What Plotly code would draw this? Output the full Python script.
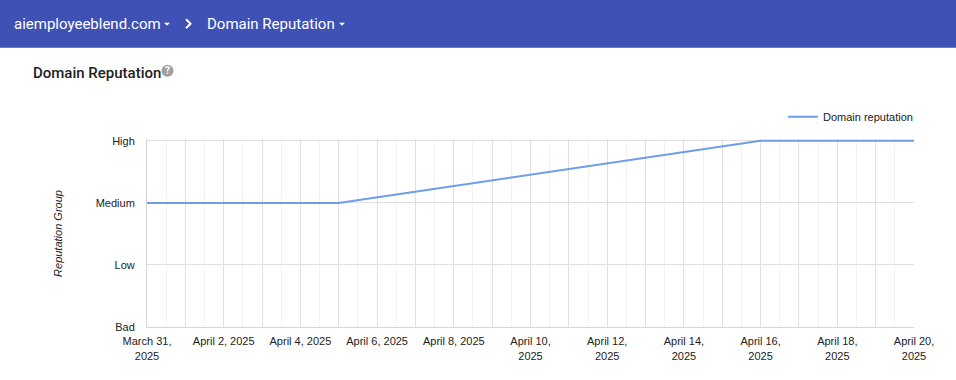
import plotly.graph_objects as go

# ---- data ----
rep_levels = ["Bad", "Low", "Medium", "High"]
dates = ["2025-03-31", "2025-04-01", "2025-04-02", "2025-04-03", "2025-04-04", "2025-04-05",
         "2025-04-16", "2025-04-17", "2025-04-18", "2025-04-19", "2025-04-20"]
reputation = ["Medium", "Medium", "Medium", "Medium", "Medium", "Medium",
              "High", "High", "High", "High", "High"]
tick_dates = ["2025-03-31", "2025-04-02", "2025-04-04", "2025-04-06", "2025-04-08", "2025-04-10",
              "2025-04-12", "2025-04-14", "2025-04-16", "2025-04-18", "2025-04-20"]
tick_labels = ["March 31,<br>2025", "April 2, 2025", "April 4, 2025", "April 6, 2025",
               "April 8, 2025", "April 10,<br>2025", "April 12,<br>2025", "April 14,<br>2025",
               "April 16,<br>2025", "April 18,<br>2025", "April 20,<br>2025"]
grid_dates = ["2025-03-%02d" % d for d in (31,)] + ["2025-04-%02d" % d for d in range(1, 21)]

W, H = 956, 380
Y_TOP = 3.03  # small headroom so the "High" line is not clipped
L, R, B = 147, 914, 327
T = B - (327 - 141) * Y_TOP / 3.0


def px(x):
    return (x - L) / (R - L)


def py(y):
    return (B - y) / (B - T)


axis_font = dict(family="Arial, Liberation Sans, sans-serif", size=11, color="#222222")

# grid tick labels: only every other day shows text
grid_text = []
for d in grid_dates:
    grid_text.append(tick_labels[tick_dates.index(d)] if d in tick_dates else "")

fig = go.Figure()
fig.add_trace(go.Scatter(
    x=dates, y=reputation, mode="lines", name="Domain reputation",
    line=dict(color="#6d9eeb", width=2), connectgaps=True, cliponaxis=False,
))

fig.update_layout(
    width=W, height=H,
    margin=dict(l=L, r=W - R, t=T, b=H - B, pad=0),
    paper_bgcolor="white", plot_bgcolor="white",
    font=axis_font,
    showlegend=True,
    legend=dict(x=px(783), y=py(117), xanchor="left", yanchor="middle",
                bgcolor="rgba(0,0,0,0)", font=axis_font, borderwidth=0),
    xaxis=dict(
        type="date", range=["2025-03-31", "2025-04-20"],
        tickmode="array", tickvals=grid_dates, ticktext=grid_text,
        showgrid=True, gridcolor="#e0e0e0", gridwidth=1,
        minor=dict(showgrid=True, gridcolor="#f2f2f2", dtick=43200000, tick0="2025-03-31"),
        showline=True, linecolor="#d6d6d6", linewidth=1,
        ticks="", tickfont=axis_font, ticklabelstandoff=4,
        zeroline=False, fixedrange=True,
    ),
    yaxis=dict(
        type="category", categoryorder="array", categoryarray=rep_levels,
        range=[0, Y_TOP],
        showgrid=True, gridcolor="#e0e0e0", gridwidth=1,
        showline=True, linecolor="#d6d6d6", linewidth=1,
        ticks="", tickfont=axis_font, ticklabelstandoff=9,
        zeroline=False, fixedrange=True,
    ),
)

# header bar
fig.add_shape(type="rect", xref="paper", yref="paper", x0=px(0), x1=px(W), y0=py(0), y1=py(48),
              fillcolor="#3f51b5", line=dict(width=0), layer="above")
# header carets
for cx in (167, 342):
    fig.add_shape(type="path", xref="paper", yref="paper",
                  path="M %f %f L %f %f L %f %f Z" % (px(cx - 3), py(23), px(cx + 3), py(23), px(cx), py(26)),
                  fillcolor="white", line=dict(width=0), layer="above")
# chevron
fig.add_shape(type="path", xref="paper", yref="paper",
              path="M %f %f L %f %f L %f %f" % (px(186), py(19.5), px(190.5), py(24), px(186), py(28.5)),
              line=dict(color="white", width=2), layer="above")

header_font = dict(family="Roboto, sans-serif", size=15, color="white")
fig.add_annotation(text="aiemployeeblend.com", xref="paper", yref="paper", x=px(12), y=py(24),
                   xanchor="left", yanchor="middle", showarrow=False, font=header_font)
fig.add_annotation(text="Domain Reputation", xref="paper", yref="paper", x=px(205), y=py(24),
                   xanchor="left", yanchor="middle", showarrow=False, font=header_font)

# section title
fig.add_annotation(text="Domain Reputation", xref="paper", yref="paper", x=px(31), y=py(73),
                   xanchor="left", yanchor="middle", showarrow=False,
                   font=dict(family="Roboto, sans-serif", size=15, color="#212121", weight=500))
# help icon
fig.add_shape(type="circle", xref="paper", yref="paper",
              x0=px(161.5), x1=px(173.5), y0=py(65), y1=py(77),
              fillcolor="#9e9e9e", line=dict(width=0), layer="above")
fig.add_annotation(text="?", xref="paper", yref="paper", x=px(167.5), y=py(71),
                   xanchor="center", yanchor="middle", showarrow=False,
                   font=dict(family="Roboto, sans-serif", size=10, color="white", weight="bold"))

# y axis title
fig.add_annotation(text="<i>Reputation Group</i>", xref="paper", yref="paper", x=px(58), y=py(234),
                   xanchor="center", yanchor="middle", showarrow=False, textangle=-90,
                   font=axis_font)

fig.write_html("out.html", config={"displayModeBar": False},
               post_script="document.body.style.margin='0';document.body.style.overflow='hidden';")
